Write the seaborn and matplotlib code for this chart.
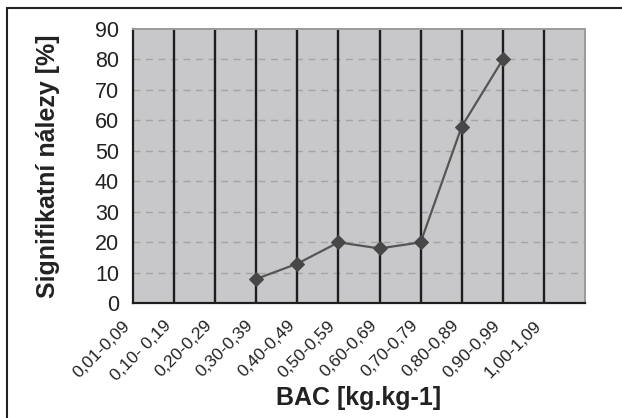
import numpy as np
import pandas as pd
import matplotlib
matplotlib.use("Agg")
import matplotlib.pyplot as plt
import matplotlib.transforms as mtransforms
from matplotlib.lines import Line2D
import seaborn as sns

categories = ["0,01-0,09", "0,10- 0,19", "0,20-0,29", "0,30-0,39", "0,40-0,49",
              "0,50-0,59", "0,60-0,69", "0,70-0,79", "0,80-0,89", "0,90-0,99",
              "1,00-1,09"]
values = [np.nan, np.nan, np.nan, 8, 13, 20, 18, 20, 58, 80, np.nan]
y_ticks = [0, 10, 20, 30, 40, 50, 60, 70, 80, 90]

sns.set_theme(style="white")
plt.rcParams['font.family'] = ['Liberation Sans', 'DejaVu Sans']

df = pd.DataFrame({"pos": np.arange(len(categories)), "val": values})

fig = plt.figure(figsize=(6.22, 4.18), dpi=100)
W, H = 622, 418
L, R, T, B = 133, 585, 29, 303.3
ax = fig.add_axes([L / W, 1 - B / H, (R - L) / W, (B - T) / H])
ax.set_facecolor("#c8c8ca")

# horizontal dashed gridlines
for yv in y_ticks[1:-1]:
    ax.axhline(yv, color="#a4a4a6", lw=1.0, ls=(0, (5, 4)), zorder=1)
# vertical black category lines
n = len(categories)
for xv in range(1, n):
    ax.axvline(xv, color="#1e1e1e", lw=1.7, zorder=2)

sns.lineplot(data=df, x="pos", y="val", ax=ax, color="#555555", lw=1.6,
             marker="D", markersize=7.5, markerfacecolor="#474747",
             markeredgecolor="#474747", zorder=5)

ax.set_xlim(0, n)
ax.set_ylim(0, 90)
ax.set_yticks(y_ticks)
ax.set_yticklabels([str(v) for v in y_ticks], fontsize=15.5, color="#222222")
ax.set_xticks(np.arange(n + 1))
ax.set_xticklabels(categories + [""], fontsize=12.5, color="#222222",
                   rotation=45, ha="right", va="top")
offset = mtransforms.ScaledTranslation(-5 / 100, 0, fig.dpi_scale_trans)
for lab in ax.get_xticklabels():
    lab.set_transform(lab.get_transform() + offset)

ax.tick_params(axis="y", direction="out", length=6, width=1.3, color="#1e1e1e", pad=4)
ax.tick_params(axis="x", direction="out", length=4.5, width=1.3, color="#1e1e1e", pad=6)

for side in ["left", "bottom"]:
    ax.spines[side].set_color("#1e1e1e")
    ax.spines[side].set_linewidth(1.6)
for side in ["top", "right"]:
    ax.spines[side].set_color("#9a9a9a")
    ax.spines[side].set_linewidth(1.4)
    ax.spines[side].set_visible(True)

ax.set_xlabel("BAC [kg.kg-1]", fontsize=18, fontweight="bold", color="#222222")
ax.set_ylabel("Signifikatní nálezy [%]", fontsize=18, fontweight="bold", color="#222222")
ax.xaxis.set_label_coords(0.5, (B - 386) / (B - T))
ax.yaxis.set_label_coords((60 - L) / (R - L), 0.5)

# outer frame (top and left edges visible)
fig.add_artist(Line2D([7 / W, 1.0], [1 - 8 / H, 1 - 8 / H], transform=fig.transFigure,
                      color="#222222", lw=1.5))
fig.add_artist(Line2D([7 / W, 7 / W], [0.0, 1 - 8 / H], transform=fig.transFigure,
                      color="#222222", lw=1.5))

fig.savefig("out.png", dpi=100, facecolor="white")
